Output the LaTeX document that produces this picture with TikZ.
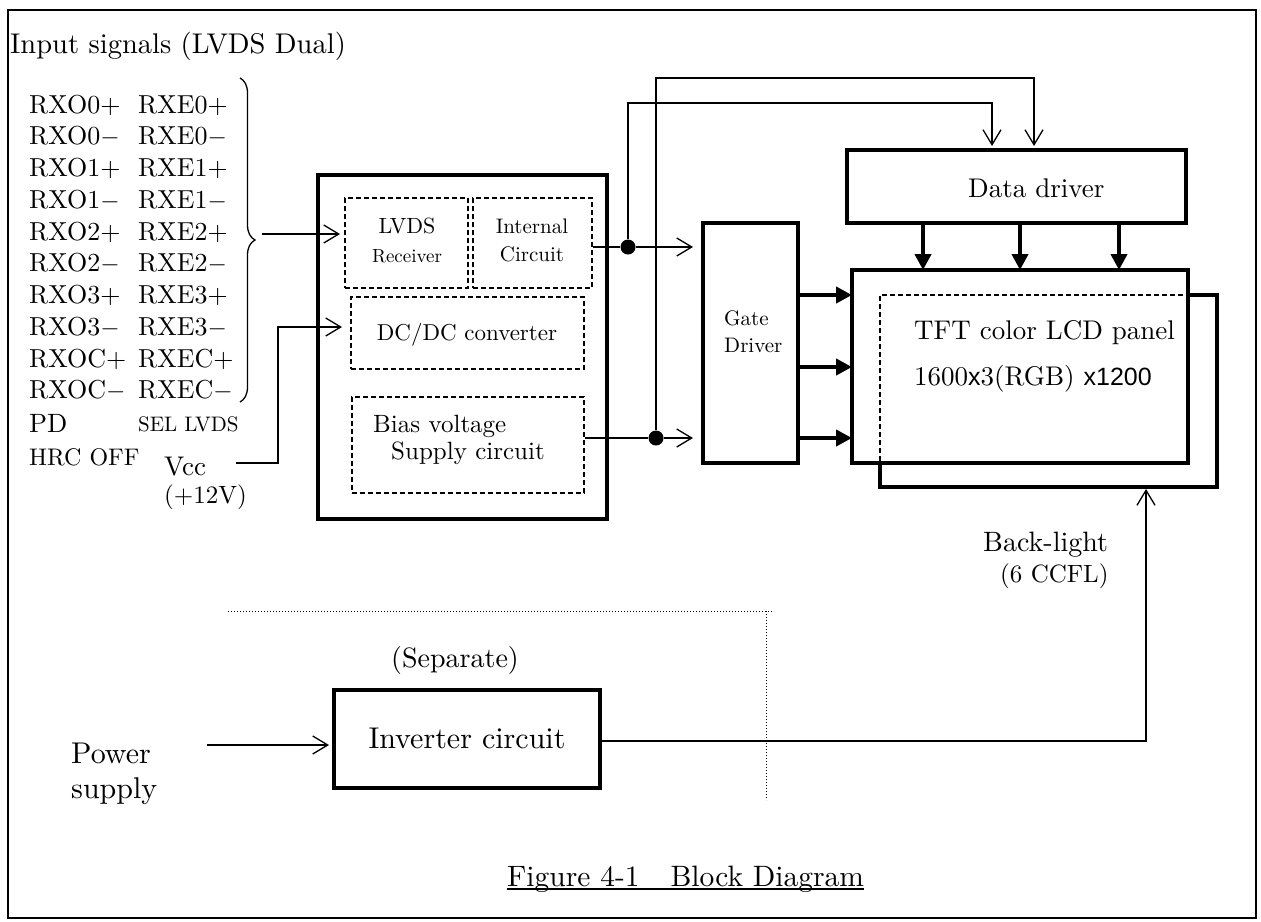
\documentclass[tikz,border=0pt]{standalone}
\usepackage{fontspec}
\setmainfont{lmroman10-regular}[Extension=.otf, BoldFont=lmroman10-bold, ItalicFont=lmroman10-italic, BoldItalicFont=lmroman10-bolditalic]
\newfontfamily\arial{Liberation Sans}
\usetikzlibrary{arrows.meta,decorations.pathreplacing,calc}
\newcommand\fs[1]{\fontsize{#1}{#1}\selectfont}
\begin{document}
\begin{tikzpicture}[x=1pt,y=-1pt,
  thinline/.style={line width=1.3pt},
  tbox/.style={draw, line width=4pt, inner sep=0pt, fill=white},
  dbox/.style={draw, line width=1.2pt, dash pattern=on 5pt off 3pt, inner sep=0pt},
  oarr/.style={line width=1.3pt, -{Straight Barb[length=15pt,width=18pt,line width=1.3pt]}},
  farr/.style={line width=4pt, -{Triangle[length=16pt,width=16pt]}},
  lbl/.style={inner sep=0pt, anchor=base west},
  clbl/.style={inner sep=0pt, anchor=base},
  dot/.style={circle, fill, inner sep=0pt, minimum size=15pt}]
\useasboundingbox (0,0) rectangle (1261,921);
\draw[line width=2.5pt] (8,10) rectangle (1256,918);

% title
\node[lbl] (title) at (10,53) {\fs{28.5}Input signals (LVDS Dual)};

% signal list
\foreach \n [count=\i from 0] in {0,1,2,3,C}{
  \node[lbl] (op\n) at (29,{113+63.5*\i}) {\fs{26}RXO\n+};
  \node[lbl] (om\n) at (29,{144.75+63.5*\i}) {\fs{26}RXO\n$-$};
  \node[lbl] (ep\n) at (138,{113+63.5*\i}) {\fs{26}RXE\n+};
  \node[lbl] (em\n) at (138,{144.75+63.5*\i}) {\fs{26}RXE\n$-$};
}
\node[lbl] (pd) at (29,432) {\fs{26.5}PD};
\node[lbl] (sel) at (138,431) {\fs{21}SEL LVDS};
\node[lbl] (hrc) at (29,465) {\fs{24}HRC OFF};
\node[lbl] (vcc) at (164,475) {\fs{27}Vcc};
\node[lbl] (v12) at (164,503) {\fs{25}(+12V)};

% brace
\draw[thinline, decorate, decoration={brace, amplitude=15pt}] (240,78) -- (240,402);
\coordinate (bt) at (262,234);

% main box
\node[tbox, minimum width=289pt, minimum height=344pt] (main) at (462.5,347) {};
\node[dbox, minimum width=123pt, minimum height=90pt] (lvds) at (406.5,243) {};
\node[dbox, minimum width=119pt, minimum height=90pt] (intc) at (532.5,243) {};
\node[dbox, minimum width=233pt, minimum height=72pt] (dcdc) at (467.5,333) {};
\node[dbox, minimum width=232pt, minimum height=96pt] (bias) at (468,445) {};
\node[clbl] (t1) at (407,233) {\fs{22}LVDS};
\node[clbl] (t2) at (407,262) {\fs{19}Receiver};
\node[clbl] (t3) at (532,233) {\fs{21}Internal};
\node[clbl] (t4) at (532,261) {\fs{21}Circuit};
\node[clbl] (t5) at (467,340) {\fs{23}DC/DC converter};
\node[lbl] (t6) at (373,432) {\fs{25}Bias voltage};
\node[lbl] (t7) at (391,459) {\fs{25}Supply circuit};

% gate driver, data driver, panel
\node[tbox, minimum width=95pt, minimum height=240pt] (gate) at (750.5,343) {};
\node[lbl] (g1) at (724,325) {\fs{21}Gate};
\node[lbl] (g2) at (724,352) {\fs{21}Driver};
\node[tbox, minimum width=339pt, minimum height=73pt] (data) at (1016.5,186.5) {};
\node[lbl] (dtxt) at (968,197) {\fs{27}Data driver};
\node[tbox, minimum width=337pt, minimum height=192pt] (bl) at (1048.5,391) {};
\node[tbox, minimum width=336pt, minimum height=193pt] (tft) at (1020,366.5) {};
\draw[line width=1.2pt, dash pattern=on 5pt off 3pt] (880,461) -- (880,295) -- (1186,295);
\node[lbl] (tf1) at (914,339) {\fs{27}TFT color LCD panel};
\node[lbl] (tf2) at (914,385) {\fs{27}1600{\arial\fs{25}x}3(RGB) {\arial\fs{25}x1200}};
\node[lbl] (bl1) at (983,551) {\fs{28}Back-light};
\node[lbl] (bl2) at (1000,582) {\fs{25}(6 CCFL)};

% connectors from inputs
\draw[oarr] (bt) -- (340,234);
\coordinate (vs) at (236,463);
\draw[oarr] (vs) -- (278,463) -- (278,327) -- (342,327);

% outputs of main box
\node[dot] (d1) at (628,247) {};
\node[dot] (d2) at (656,438) {};
\draw[thinline] (intc.east |- d1) -- (d1);
\draw[oarr] (d1) -- (693,247);
\draw[thinline] (bias.east |- d2) -- (d2);
\draw[oarr] (d2) -- (693,438);
\draw[oarr] (d1) -- (628,103) -- (992,103) -- (992,146);
\draw[oarr] (d2) -- (656,78) -- (1034,78) -- (1034,146);

% thick arrows
\foreach \x in {923,1020,1119}{
  \draw[farr] (\x,225) -- (\x,270);
}
\foreach \y in {295,367,438}{
  \draw[farr] (800,\y) -- (852,\y);
}

% separate section
\draw[line width=1pt, dotted] (228,611) -- (774,611);
\draw[line width=1pt, dotted] (766,611) -- (766,800);
\node[clbl] (sep) at (455,667) {\fs{28}(Separate)};
\node[tbox, minimum width=266pt, minimum height=98pt] (inv) at (467,739) {};
\node[clbl] (invt) at (467,748) {\fs{30}Inverter circuit};
\node[lbl] (pw1) at (71,763) {\fs{30}Power};
\node[lbl] (pw2) at (71,798) {\fs{30}supply};
\coordinate (ps) at (207,745);
\draw[oarr] (ps) -- (329,745);
\draw[oarr] (inv.east |- 0,741) -- (1146,741) -- (1146,489);

% caption
\node[lbl] (cap) at (507,886) {\fs{29.5}Figure 4-1\hspace{1.05em}Block Diagram};
\draw[line width=2.5pt] ($(cap.base west)+(0,3)$) -- ($(cap.base east)+(0,3)$);
\end{tikzpicture}
\end{document}
